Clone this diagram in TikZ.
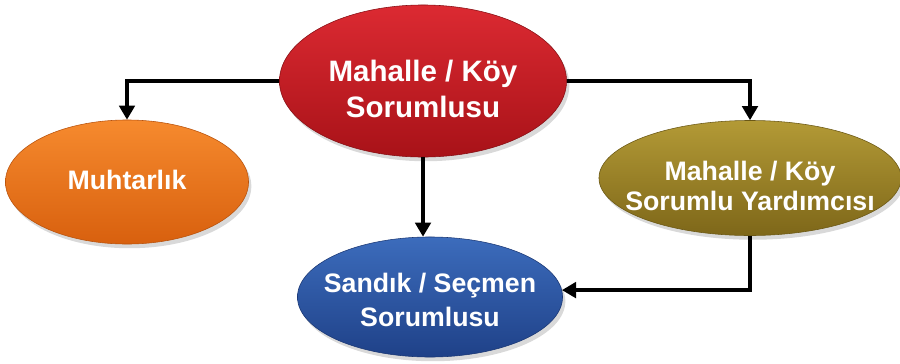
\documentclass[tikz,border=0pt]{standalone}
\usepackage{fontspec}
\setmainfont{Liberation Sans}
\usepackage{xcolor}
\usepackage{tikz}
\usetikzlibrary{shapes.geometric,arrows.meta,shadows}
\definecolor{redtop}{HTML}{DC2A32}
\definecolor{redbot}{HTML}{A81218}
\definecolor{oratop}{HTML}{F68A2E}
\definecolor{orabot}{HTML}{D8600E}
\definecolor{olvtop}{HTML}{B39A36}
\definecolor{olvbot}{HTML}{7E6719}
\definecolor{blutop}{HTML}{3C6CBC}
\definecolor{blubot}{HTML}{1F4188}
\tikzset{
  blob/.style={ellipse, inner sep=0pt,
    drop shadow={opacity=0.3, shadow xshift=2pt, shadow yshift=-3pt}},
  blobtxt/.style={align=center, text=white, inner sep=0pt,
    font=\bfseries\fontsize{19}{24.5}\selectfont},
  redblob/.style={blob, top color=redtop, bottom color=redbot, draw=redbot!80!black},
  orablob/.style={blob, top color=oratop, bottom color=orabot, draw=orabot!85!black},
  olvblob/.style={blob, top color=olvtop, bottom color=olvbot, draw=olvbot!85!black},
  blublob/.style={blob, top color=blutop, bottom color=blubot, draw=blubot!85!black},
  conn/.style={draw=black, line width=2.4pt, -{Triangle[length=10pt,width=11pt]}}
}
\begin{document}
\begin{tikzpicture}[x=0.025cm, y=-0.025cm]
  \useasboundingbox (0,0) rectangle (900,363);

  \node[redblob, minimum width=7.175cm, minimum height=3.8cm,
    label={[blobtxt, font=\bfseries\fontsize{21}{25}\selectfont, yshift=-0.2cm]center:{Mahalle / Köy\\Sorumlusu}}] (sorumlu) at (423,81) {};
  \node[orablob, minimum width=6.075cm, minimum height=3.1cm,
    label={[blobtxt, yshift=0.05cm]center:{Muhtarlık}}] (muhtar) at (127,182) {};
  \node[olvblob, minimum width=7.55cm, minimum height=2.875cm,
    label={[blobtxt, font=\bfseries\fontsize{19}{21.5}\selectfont, yshift=-0.2cm]center:{Mahalle / Köy\\Sorumlu Yardımcısı}}] (yardimci) at (750,178) {};
  \node[blublob, minimum width=6.625cm, minimum height=3cm,
    label={[blobtxt, yshift=-0.07cm]center:{Sandık / Seçmen\\Sorumlusu}}] (sandik) at (430,297) {};

  \draw[conn] (sorumlu.west) -| (muhtar.north);
  \draw[conn] (sorumlu.east) -| (yardimci.north);
  \draw[conn] (sorumlu.south) -- (sorumlu.south |- sandik.north);
  \draw[conn] (yardimci.south) |- (sandik.3);
\end{tikzpicture}
\end{document}
